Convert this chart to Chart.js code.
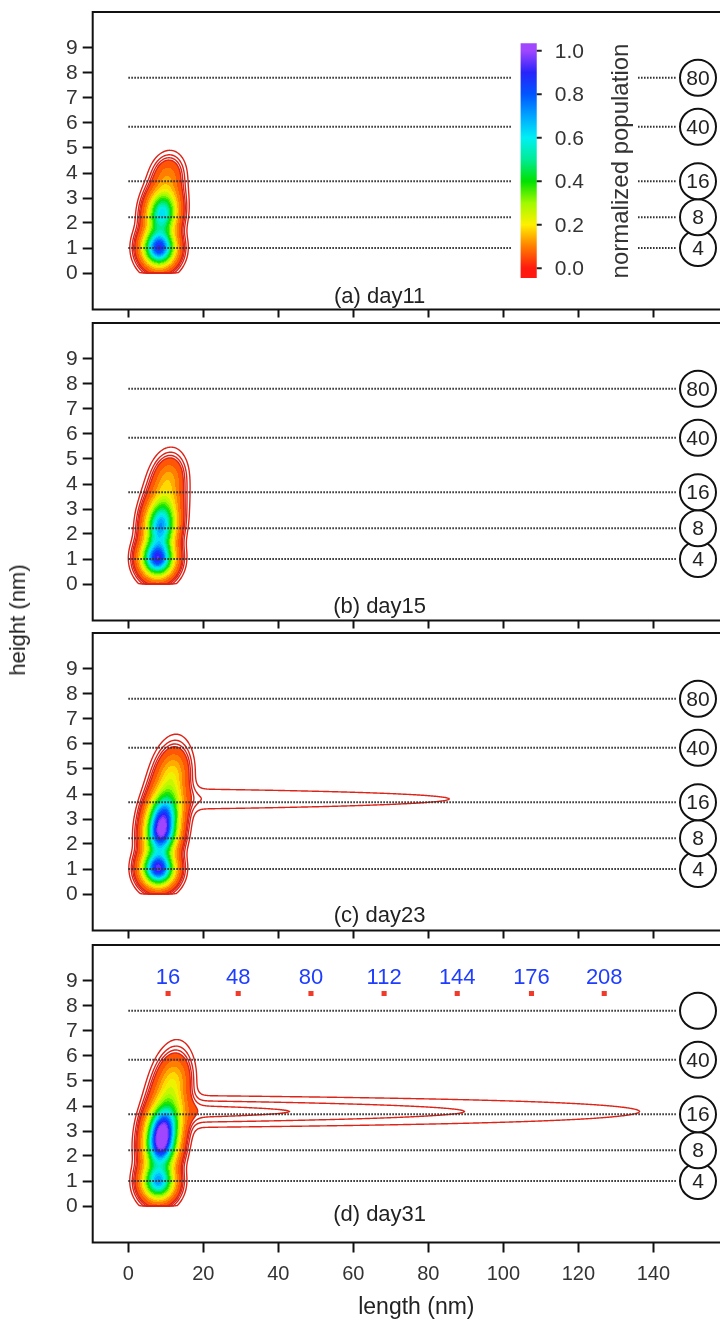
<!DOCTYPE html>
<html>
<head>
<meta charset="utf-8">
<title>AFM height / length distributions</title>
<script src="https://cdn.jsdelivr.net/npm/chart.js@4.4.1/dist/chart.umd.min.js"></script>
<style>
  html, body { margin: 0; padding: 0; background: #fff; overflow: hidden; }
  #clip { position: relative; width: 720px; height: 1323px; overflow: hidden; }
  #wrap { position: absolute; left: 0; top: 0; width: 740px; height: 1323px; }
  #wrap canvas { position: absolute; left: 0; }
  #ytitle {
    position: absolute; left: 18px; top: 620px;
    transform: translate(-50%, -50%) rotate(-90deg);
    font: 22px "Liberation Sans", Arial, sans-serif; color: #222; white-space: nowrap;
  }
</style>
</head>
<body>
<div id="clip">
<div id="wrap">
  <canvas id="day11" width="740" height="322" style="top:0px;width:740px;height:322px"></canvas>
  <canvas id="day15" width="740" height="322" style="top:310px;width:740px;height:322px"></canvas>
  <canvas id="day23" width="740" height="322" style="top:620px;width:740px;height:322px"></canvas>
  <canvas id="day31" width="740" height="390" style="top:933px;width:740px;height:390px"></canvas>
  <div id="ytitle">height (nm)</div>
</div>
</div>
<script>
const xTicks = [0, 20, 40, 60, 80, 100, 120, 140];
const yTicks = [0, 1, 2, 3, 4, 5, 6, 7, 8, 9];
const oligomerHeights = [1.0, 2.23, 3.67, 5.85, 7.81];
const oligomerLabels = ['4', '8', '16', '40', '80'];
const panelTitles = ['(a) day11', '(b) day15', '(c) day23', '(d) day31'];
const cbarTicks = [0.0, 0.2, 0.4, 0.6, 0.8, 1.0];
const fibrilLabels = ['16', '48', '80', '112', '144', '176', '208'];
const fibrilX = [10.6, 29.3, 48.7, 68.2, 87.7, 107.5, 126.9];
const fibrilY = 8.5;

// population peaks: [length, height, sdLength, sdHeight, amplitude, tilt]
const peaksDay11 = [
  [8.2, 1.0, 2.6, 0.44, 0.86, 0],
  [9.0, 2.35, 2.4, 0.5, 0.46, 0.3],
  [9.4, 2.7, 2.6, 0.85, 0.18, 0.8],
  [10.5, 4.0, 2.2, 0.4, 0.05, 0.5]
];
const peaksDay15 = [
  [7.8, 1.02, 2.6, 0.44, 0.86, 0],
  [8.6, 2.3, 2.4, 0.55, 0.55, 0.3],
  [9.4, 3.0, 2.7, 0.95, 0.22, 0.8],
  [10.8, 4.35, 2.2, 0.45, 0.06, 0.5]
];
const peaksDay23 = [
  [8.0, 1.02, 2.6, 0.42, 0.92, 0],
  [8.7, 2.36, 2.5, 0.5, 0.72, 0.3],
  [9.3, 3.15, 2.5, 0.5, 0.45, 0.5],
  [10.2, 3.6, 2.7, 1.05, 0.3, 0.9],
  [12.0, 5.0, 2.3, 0.5, 0.06, 0.5]
];
const peaksDay31 = [
  [8.0, 0.97, 2.6, 0.44, 0.68, 0],
  [8.7, 2.4, 2.5, 0.55, 0.78, 0.3],
  [9.3, 3.2, 2.5, 0.5, 0.5, 0.5],
  [10.3, 3.75, 2.8, 1.1, 0.3, 0.9],
  [12.3, 5.2, 2.3, 0.5, 0.06, 0.5]
];
// fibril ridge: [startLength, endLength, height, sdHeight, levelAtStart]
const ridgeDay23 = [15, 160, 3.8, 0.35, 0.0195];
const ridgeDay31 = [15, 183, 3.78, 0.4, 0.036];

const lineLevels = [0.01, 0.02, 0.03, 0.04];
const fillLevel = 0.04;

const cmapStops = [
  [0.0, [255, 25, 15]],
  [0.1, [255, 125, 0]],
  [0.2, [255, 240, 0]],
  [0.3, [160, 250, 0]],
  [0.4, [0, 225, 0]],
  [0.5, [0, 235, 150]],
  [0.6, [0, 240, 245]],
  [0.7, [0, 165, 255]],
  [0.8, [0, 85, 255]],
  [0.9, [40, 35, 250]],
  [1.0, [160, 70, 255]]
];

const FONT = '"Liberation Sans", Arial, sans-serif';
Chart.defaults.font.family = FONT;
Chart.defaults.color = '#333';

function colorAt(v) {
  v = Math.min(1, Math.max(0, Math.floor(v * 25) / 25 + 0.02));
  for (let k = 1; k < cmapStops.length; k++) {
    const [v1, c1] = cmapStops[k];
    if (v <= v1) {
      const [v0, c0] = cmapStops[k - 1];
      const t = (v - v0) / (v1 - v0);
      return [0, 1, 2].map(i => Math.round(c0[i] + (c1[i] - c0[i]) * t));
    }
  }
  return cmapStops[cmapStops.length - 1][1];
}

function density(peaks, ridge, lx, hy) {
  if (hy < 0) return 0;
  let v = 0;
  for (const [cx, cy, sx, sy, amp, tilt] of peaks) {
    const dx = (lx - cx - tilt * (hy - cy)) / sx;
    const dy = (hy - cy) / sy;
    const q = dx * dx + dy * dy;
    if (q < 40) v += amp * Math.exp(-0.5 * q);
  }
  if (ridge) {
    const [x0, x1, yc, sd, c0] = ridge;
    if (lx < x1) {
      const level = c0 * (x1 - lx) / (x1 - x0) / (1 + Math.exp(x0 - 3 - lx));
      const dy = (hy - yc) / sd;
      v += level * Math.exp(-0.5 * dy * dy);
    }
  }
  return v;
}

// marching squares over the pixel grid, one path per level
function traceLevel(ctx, grid, w, h, lev, ox, oy) {
  ctx.beginPath();
  for (let j = 0; j < h - 1; j++) {
    for (let i = 0; i < w - 1; i++) {
      const a = grid[j * w + i], b = grid[j * w + i + 1];
      const d = grid[(j + 1) * w + i], c = grid[(j + 1) * w + i + 1];
      const pa = a >= lev, pb = b >= lev, pc = c >= lev, pd = d >= lev;
      if (pa === pb && pb === pc && pc === pd) continue;
      const pts = [];
      if (pa !== pb) pts.push(i + (lev - a) / (b - a), j);
      if (pb !== pc) pts.push(i + 1, j + (lev - b) / (c - b));
      if (pd !== pc) pts.push(i + (lev - d) / (c - d), j + 1);
      if (pa !== pd) pts.push(i, j + (lev - a) / (d - a));
      for (let k = 0; k + 3 < pts.length; k += 4) {
        ctx.moveTo(ox + pts[k], oy + pts[k + 1]);
        ctx.lineTo(ox + pts[k + 2], oy + pts[k + 3]);
      }
    }
  }
  ctx.stroke();
}

const densityPlugin = {
  id: 'density',
  beforeDatasetsDraw(chart, args, opts) {
    const { ctx, chartArea: a, scales: { x, y } } = chart;
    const gx = Math.floor(a.left), gy = Math.floor(a.top);
    const w = Math.ceil(a.right) - gx, h = Math.ceil(a.bottom) - gy;
    const xs = [], ys = [];
    for (let i = 0; i < w; i++) xs.push(x.getValueForPixel(gx + i + 0.5));
    for (let j = 0; j < h; j++) ys.push(y.getValueForPixel(gy + j + 0.5));
    const grid = new Float32Array(w * h);
    for (let j = 0; j < h; j++) {
      for (let i = 0; i < w; i++) {
        grid[j * w + i] = xs[i] > 60 && !opts.ridge ? 0 : density(opts.peaks, opts.ridge, xs[i], ys[j]);
      }
    }
    const off = document.createElement('canvas');
    off.width = w; off.height = h;
    const octx = off.getContext('2d');
    const img = octx.createImageData(w, h);
    for (let k = 0; k < w * h; k++) {
      if (grid[k] >= fillLevel) {
        const c = colorAt(grid[k]);
        img.data[4 * k] = c[0]; img.data[4 * k + 1] = c[1];
        img.data[4 * k + 2] = c[2]; img.data[4 * k + 3] = 255;
      }
    }
    octx.putImageData(img, 0, 0);
    ctx.save();
    ctx.beginPath();
    ctx.rect(a.left, a.top, a.right - a.left, a.bottom - a.top);
    ctx.clip();
    ctx.drawImage(off, gx, gy);
    ctx.strokeStyle = '#dc2419';
    ctx.lineWidth = 1.4;
    ctx.lineCap = 'round';
    for (const lev of lineLevels) traceLevel(ctx, grid, w, h, lev, gx + 0.5, gy + 0.5);
    ctx.restore();
  }
};

function drawColorbar(ctx, x, y) {
  // colour scale sits inside panel (a), value 0..1 spans heights 0.19..8.89
  const l = x.getPixelForValue(104.6), r = x.getPixelForValue(108.9);
  const p0 = y.getPixelForValue(0.19), p1 = y.getPixelForValue(8.89);
  const top = y.getPixelForValue(9.19), bot = y.getPixelForValue(-0.2);
  const g = ctx.createLinearGradient(0, p0, 0, p1);
  cmapStops.forEach(([v, c]) => g.addColorStop(v, 'rgb(' + c.join(',') + ')'));
  ctx.fillStyle = g;
  ctx.fillRect(l, top, r - l, bot - top);
  ctx.strokeStyle = '#222';
  ctx.lineWidth = 2;
  ctx.fillStyle = '#333';
  ctx.font = '21px ' + FONT;
  ctx.textAlign = 'left';
  ctx.textBaseline = 'middle';
  cbarTicks.forEach(v => {
    const py = p0 + (p1 - p0) * v;
    ctx.beginPath(); ctx.moveTo(r, py); ctx.lineTo(r + 5, py); ctx.stroke();
    ctx.fillText(v.toFixed(1), r + 18, py + 1);
  });
  ctx.save();
  ctx.translate(x.getPixelForValue(131.4), y.getPixelForValue(4.48));
  ctx.rotate(-Math.PI / 2);
  ctx.textAlign = 'center';
  ctx.font = '24px ' + FONT;
  ctx.fillText('normalized population', 0, 0);
  ctx.restore();
}

const annotate = {
  id: 'annotate',
  afterDatasetsDraw(chart, args, o) {
    const { ctx, scales: { x, y } } = chart;
    ctx.save();
    ctx.textAlign = 'center';
    ctx.textBaseline = 'middle';
    ctx.fillStyle = '#222';
    ctx.font = '22px ' + FONT;
    ctx.fillText(o.title, x.getPixelForValue(67), y.getPixelForValue(o.titleY));
    ctx.font = '21px ' + FONT;
    o.circles.forEach((t, i) => {
      if (t) ctx.fillText(t, x.getPixelForValue(151.9), y.getPixelForValue(oligomerHeights[i]) + 1);
    });
    if (o.fibrils) {
      ctx.fillStyle = '#1f3dff';
      ctx.font = '22px ' + FONT;
      fibrilLabels.forEach((t, i) => ctx.fillText(t, x.getPixelForValue(fibrilX[i]), y.getPixelForValue(9.12)));
    }
    if (o.colorbar) drawColorbar(ctx, x, y);
    ctx.restore();
  },
  afterDraw(chart) {
    const { ctx, chartArea: a } = chart;
    ctx.save();
    ctx.strokeStyle = '#111';
    ctx.lineWidth = 2;
    ctx.strokeRect(a.left, a.top, a.right - a.left, a.bottom - a.top);
    ctx.restore();
  }
};

function dottedLines(withGap) {
  return oligomerHeights.map(hgt => ({
    type: 'line',
    data: withGap
      ? [{ x: 0, y: hgt }, { x: 102.3, y: hgt }, { x: 120, y: null }, { x: 135.9, y: hgt }, { x: 146, y: hgt }]
      : [{ x: 0, y: hgt }, { x: 146, y: hgt }],
    showLine: true,
    spanGaps: false,
    borderColor: '#333',
    borderWidth: 2,
    borderDash: [1.6, 1.4],
    pointRadius: 0,
    order: 3
  }));
}

function noPadding(s) {
  s.paddingTop = 0; s.paddingBottom = 0; s.paddingLeft = 0; s.paddingRight = 0;
}

const panels = [
  { id: 'day11', peaks: peaksDay11, ridge: null, pad: 12, height: 322, titleY: -0.96, colorbar: true, circles: oligomerLabels },
  { id: 'day15', peaks: peaksDay15, ridge: null, pad: 13, height: 322, titleY: -0.9, circles: oligomerLabels },
  { id: 'day23', peaks: peaksDay23, ridge: ridgeDay23, pad: 13, height: 322, titleY: -0.88, circles: oligomerLabels },
  { id: 'day31', peaks: peaksDay31, ridge: ridgeDay31, pad: 12, height: 390, titleY: -0.36, fibrils: true, last: true,
    circles: ['4', '8', '16', '40', ''] }
];

panels.forEach((p, n) => {
  const datasets = [{
    type: 'scatter',
    data: oligomerHeights.map(hgt => ({ x: 151.9, y: hgt })),
    pointStyle: 'circle',
    pointRadius: 18,
    pointBorderWidth: 2,
    pointBorderColor: '#111',
    pointBackgroundColor: '#fff',
    order: 1
  }];
  if (p.fibrils) {
    datasets.push({
      type: 'scatter',
      data: fibrilX.map(v => ({ x: v, y: fibrilY })),
      pointStyle: 'rect',
      pointRadius: 3.6,
      pointBorderWidth: 0,
      pointBackgroundColor: '#f03a2a',
      order: 2
    });
  }
  datasets.push(...dottedLines(!!p.colorbar));

  new Chart(document.getElementById(p.id), {
    type: 'scatter',
    data: { datasets },
    options: {
      responsive: false,
      maintainAspectRatio: false,
      animation: false,
      devicePixelRatio: 1,
      events: [],
      layout: { autoPadding: false, padding: { top: p.pad, left: 0, right: 0, bottom: 0 } },
      plugins: {
        legend: { display: false },
        tooltip: { enabled: false },
        density: { peaks: p.peaks, ridge: p.ridge },
        annotate: { title: panelTitles[n], titleY: p.titleY, circles: p.circles, colorbar: !!p.colorbar, fibrils: !!p.fibrils }
      },
      scales: {
        x: {
          type: 'linear', min: -9.5, max: 163.1,
          afterBuildTicks: s => { s.ticks = xTicks.map(v => ({ value: v })); },
          afterFit: s => { s.height = p.height - p.pad - 297.5; noPadding(s); },
          grid: { drawOnChartArea: false, tickLength: p.last ? 10 : 8, tickWidth: 2, tickColor: '#111' },
          border: { display: false },
          ticks: { display: !!p.last, font: { size: 20 }, color: '#333', padding: 10, maxRotation: 0, autoSkip: false },
          title: { display: !!p.last, text: 'length (nm)', font: { size: 23 }, color: '#222', padding: { top: 0, bottom: 2 } }
        },
        y: {
          type: 'linear', min: -1.46, max: 10.44,
          afterBuildTicks: s => { s.ticks = yTicks.map(v => ({ value: v })); },
          afterFit: s => { s.width = 92.7; noPadding(s); },
          grid: { drawOnChartArea: false, tickLength: 10, tickWidth: 2, tickColor: '#111' },
          border: { display: false },
          ticks: { font: { size: 21 }, color: '#333', padding: 5, autoSkip: false }
        }
      }
    },
    plugins: [densityPlugin, annotate]
  });
});
</script>
</body>
</html>
